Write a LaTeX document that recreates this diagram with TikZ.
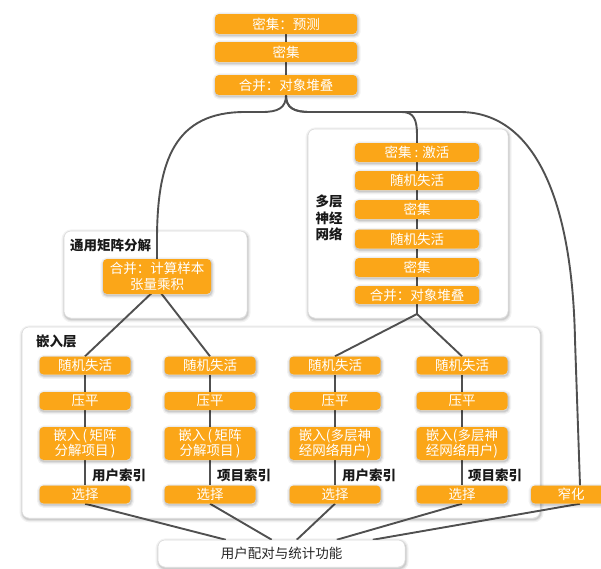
\documentclass[tikz,border=0pt]{standalone}
\usepackage{fontspec}
\newfontfamily\cjk{Noto Sans CJK SC}
\usetikzlibrary{calc}
\pgfdeclarelayer{grp}
\pgfdeclarelayer{lines}
\pgfsetlayers{grp,lines,main}
\definecolor{org}{RGB}{251,166,24}
\definecolor{edgec}{RGB}{80,80,80}
\definecolor{lblc}{RGB}{25,25,25}
\begin{document}
\begin{tikzpicture}[x=1pt,y=-1pt,
  font=\cjk\fontsize{13.5}{15.5}\selectfont,
  halo/.style={
    preaction={draw=black, draw opacity=0.05, line width=6pt, transform canvas={xshift=0.6pt,yshift=-1.4pt}},
    preaction={draw=black, draw opacity=0.07, line width=3.5pt, transform canvas={xshift=0.6pt,yshift=-1.4pt}},
    preaction={draw=black, draw opacity=0.09, line width=1.5pt, transform canvas={xshift=0.6pt,yshift=-1.4pt}}},
  obox/.style={halo, fill=org, text=white, rounded corners=4pt, inner sep=0pt, align=center},
  topbox/.style={obox, minimum width=142pt, minimum height=20pt},
  mlpbox/.style={obox, minimum width=124pt, minimum height=19pt},
  colbox/.style={obox, minimum width=91pt, minimum height=18pt},
  embbox/.style={obox, minimum width=91pt, minimum height=33pt},
  grpbox/.style={halo, fill=white, draw=black!15, line width=0.5pt, rounded corners=7pt, inner sep=0pt},
  lbl/.style={text=lblc, inner sep=0pt, align=center, font=\cjk\bfseries\fontsize{13.5}{16.5}\selectfont},
  conn/.style={draw=edgec, line width=1.9pt},
  botbox/.style={halo, fill=white, draw=black!15, line width=0.5pt, rounded corners=7pt, text=black!85, inner sep=0pt,
    minimum width=247pt, minimum height=27pt}
]
\useasboundingbox (0,0) rectangle (601,568);

% group boxes
\begin{pgfonlayer}{grp}
\node[grpbox, minimum width=200pt, minimum height=189pt] (gmlp) at (408,223.5) {};
\node[grpbox, minimum width=183pt, minimum height=87pt] (ggmf) at (155.5,274.5) {};
\node[grpbox, minimum width=518pt, minimum height=191pt] (gemb) at (281,422.5) {};
\end{pgfonlayer}

% group labels
\node[lbl, anchor=west] (gmflbl) at (70,245) {通用矩阵分解};
\node[lbl, anchor=west] (emblbl) at (36,341) {嵌入层};
\node[lbl] (mlplbl) at (329,218) {多层\\神经\\网络};

% top stack
\node[topbox] (t1) at (286,24) {密集：预测};
\node[topbox] (t2) at (286,52) {密集};
\node[topbox] (t3) at (286,85) {合并：对象堆叠};

% MLP stack
\node[mlpbox] (m1) at (417,152.5) {密集 : 激活};
\node[mlpbox] (m2) at (417,180.5) {随机失活};
\node[mlpbox] (m3) at (417,209.5) {密集};
\node[mlpbox] (m4) at (417,239) {随机失活};
\node[mlpbox] (m5) at (417,267.5) {密集};
\node[mlpbox, minimum height=18pt] (m6) at (417,295) {合并：对象堆叠};

% GMF node
\node[obox, minimum width=108pt, minimum height=35pt] (gmf) at (157,276.5) {合并：计算样本\\张量乘积};

% columns
\foreach \i/\x in {1/85,2/210,3/335,4/462}{
  \node[colbox] (c\i r1) at (\x,365.5) {随机失活};
  \node[colbox] (c\i r2) at (\x,401) {压平};
  \node[colbox] (c\i r4) at (\x,494.5) {选择};
}
\node[embbox] (c1r3) at (85,443.5) {嵌入\,(\,矩阵\\分解项目\,)};
\node[embbox] (c2r3) at (210,443.5) {嵌入\,(\,矩阵\\分解项目\,)};
\node[embbox] (c3r3) at (335,443.5) {嵌入(多层神\\经网络用户)};
\node[embbox] (c4r3) at (462,443.5) {嵌入(多层神\\经网络用户)};

\node[lbl, anchor=west] (l1) at (92,475) {用户索引};
\node[lbl, anchor=west] (l2) at (217,475) {项目索引};
\node[lbl, anchor=west] (l3) at (342,475) {用户索引};
\node[lbl, anchor=west] (l4) at (468,475) {项目索引};

% narrowing
\node[colbox, minimum width=80pt] (nar) at (571,494.5) {窄化};

% bottom
\node[botbox] (bot) at (281.5,553.5) {用户配对与统计功能};

\coordinate (gj) at (157,288);
\coordinate (mj) at (417,314);

\begin{pgfonlayer}{lines}
\draw[conn] (t1) -- (t2) -- (t3);
\draw[conn] (t3.south) .. controls (286,108) and (278,112) .. (262,112) -- (245,112)
   .. controls (175,112) and (157,160) .. (157,240) -- (gmf.north);
\draw[conn] (t3.south) .. controls (286,108) and (294,112) .. (310,112) -- (402,112)
   .. controls (414,112) and (417,120) .. (417,135) -- (m1.north);
\draw[conn] (t3.south) .. controls (286,108) and (294,112) .. (310,112) -- (460,112)
   .. controls (530,112) and (572,190) .. (575,340) -- ($(nar.north)+(9,0)$);
\draw[conn] (m1) -- (m2) -- (m3) -- (m4) -- (m5) -- (m6);
\draw[conn] (m6.south) -- (mj) -- (c3r1.north);
\draw[conn] (mj) -- (c4r1.north);
\draw[conn] (gj) -- (c1r1.north);
\draw[conn] (gj) -- (c2r1.north);
\foreach \i in {1,2,3,4}{
  \draw[conn] (c\i r1) -- (c\i r2) -- (c\i r3) -- (c\i r4);
}
\draw[conn] (c1r4.south) -- ($(bot.north west)+(68,0)$);
\draw[conn] (c2r4.south) -- ($(bot.north west)+(114,0)$);
\draw[conn] (c3r4.south) -- ($(bot.north west)+(139,0)$);
\draw[conn] (c4r4.south) -- ($(bot.north west)+(179,0)$);
\draw[conn] ($(nar.south)+(9,0)$) -- ($(bot.north west)+(215,0)$);
\end{pgfonlayer}
\end{tikzpicture}
\end{document}
